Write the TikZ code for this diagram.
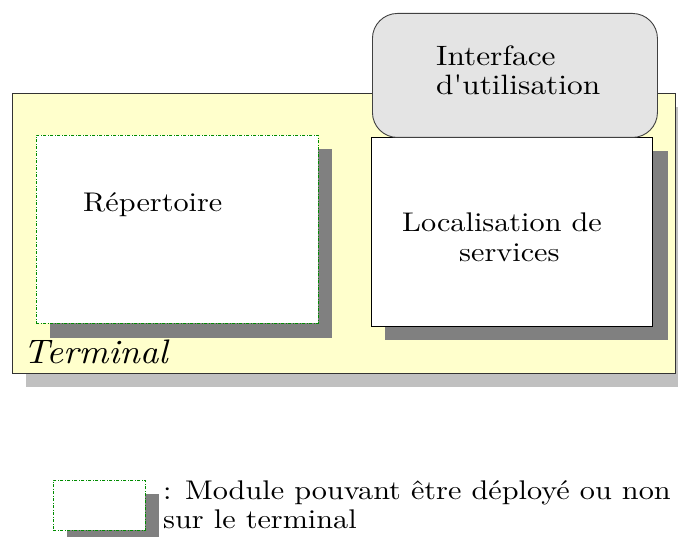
\documentclass[tikz,border=0pt]{standalone}
\usepackage{fontspec}
\setmainfont{lmroman10-regular.otf}[Ligatures=TeXOff, FakeStretch=1.12, ItalicFont=lmroman10-italic.otf]
\newfontfamily\termfont{lmroman10-italic.otf}[FakeStretch=1.07]
\definecolor{termfill}{RGB}{255,255,204}
\definecolor{ifacefill}{RGB}{228,228,228}
\definecolor{shadowdark}{RGB}{128,128,128}
\definecolor{shadowlight}{RGB}{192,192,192}
\definecolor{optgreen}{RGB}{0,140,0}
\begin{document}
\begin{tikzpicture}[x=1pt,y=-1pt,
  box/.style={draw, rectangle, inner sep=0pt, anchor=north west},
  shadowbox/.style={fill=shadowdark, draw=none, rectangle, inner sep=0pt, anchor=north west},
  optbox/.style={box, fill=white, draw=optgreen, line width=0.9pt, dash pattern=on 3pt off 1.5pt on 1pt off 1.5pt},
  label/.style={anchor=base west, inner sep=0pt, font=\fontsize{27}{29}\selectfont}
]
\useasboundingbox (0,0) rectangle (678,537);
\fill[white] (0,0) rectangle (678,537);
% Terminal
\node[shadowbox, fill=shadowlight, minimum width=652pt, minimum height=280pt] (termshadow) at (26,107) {};
\node[box, fill=termfill, draw=black!80, line width=0.9pt, minimum width=663pt, minimum height=280pt] (terminal) at (12,93) {};
% Repertoire
\node[shadowbox, minimum width=282pt, minimum height=189pt] (repshadow) at (50,149) {};
\node[optbox, minimum width=282pt, minimum height=188pt] (rep) at (36,135) {};
% Localisation
\node[shadowbox, minimum width=283pt, minimum height=189pt] (locshadow) at (385,151) {};
\node[box, fill=white, draw=black, line width=1.2pt, minimum width=281pt, minimum height=189pt] (loc) at (371,137) {};
% Interface
\node[box, fill=ifacefill, draw=black!75, line width=0.9pt, rounded corners=25pt, minimum width=285pt, minimum height=124pt] (iface) at (372,13) {};
% Texts
\node[label] (t1) at (83,212) {Répertoire};
\node[label, font=\fontsize{28}{29}\selectfont] (t2) at (436,66) {Interface};
\node[label, font=\fontsize{28}{29}\selectfont] (t3) at (436,95) {d'utilisation};
\node[label] (t4) at (402,232) {Localisation de};
\node[label] (t5) at (459,262) {services};
\node[anchor=base west, inner sep=0pt, font=\termfont\fontsize{34}{34}\selectfont] (t6) at (23,364) {Terminal};
% Legend
\node[shadowbox, minimum width=92pt, minimum height=43pt] (legshadow) at (67,494) {};
\node[optbox, minimum width=92pt, minimum height=50pt] (leg) at (53,480) {};
\node[label] (t7) at (163,500) {: Module pouvant être déployé ou non};
\node[label] (t8) at (163,529) {sur le terminal};
\end{tikzpicture}
\end{document}
